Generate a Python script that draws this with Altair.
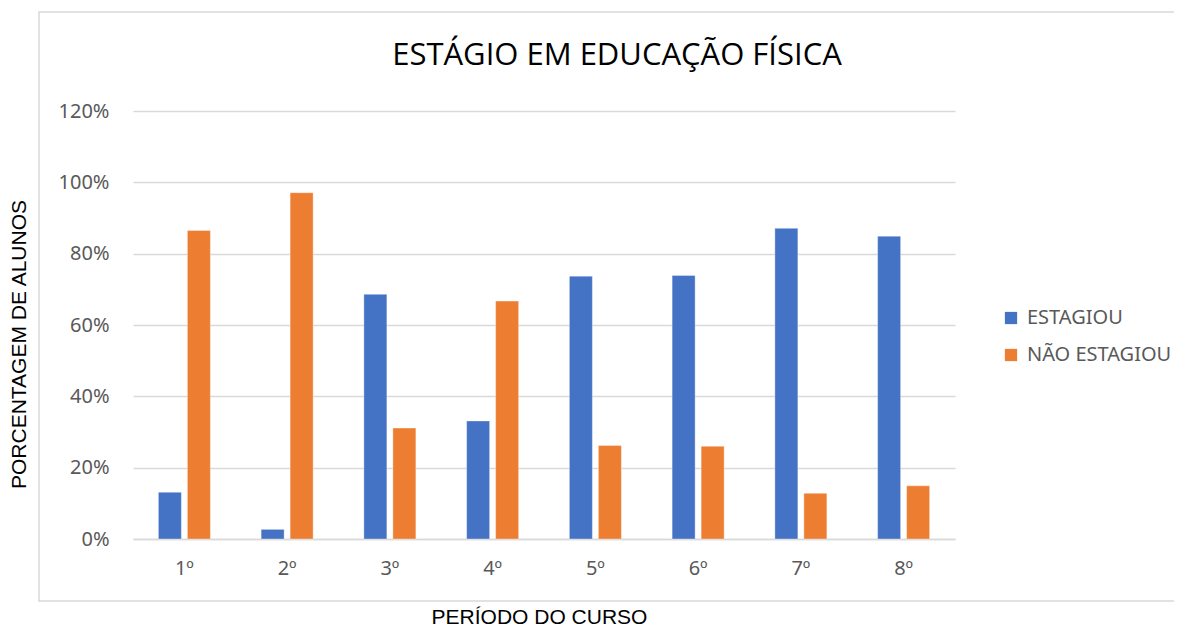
import altair as alt
import pandas as pd

periodos = ["1º", "2º", "3º", "4º", "5º", "6º", "7º", "8º"]
estagiou = [0.131, 0.027, 0.686, 0.331, 0.737, 0.739, 0.871, 0.849]
nao_estagiou = [0.865, 0.971, 0.311, 0.667, 0.262, 0.260, 0.128, 0.149]
series = ["ESTAGIOU", "NÃO ESTAGIOU"]
cores = ["#4472C4", "#ED7D31"]

rows = []
for i, p in enumerate(periodos):
    rows.append({"periodo": p, "serie": series[0], "valor": estagiou[i]})
    rows.append({"periodo": p, "serie": series[1], "valor": nao_estagiou[i]})
df = pd.DataFrame(rows)

W, H = 822, 428
PL, PT = 125, 103
TOTW, TOTH = 1166, 618
LBLFONT = "Noto Sans"

border = alt.Chart(pd.DataFrame({"k": [0]})).mark_rect(
    fill=None, stroke="#d9d9d9", strokeWidth=1.5
).encode(
    x=alt.value(39 - 8 - PL), x2=alt.value(TOTW + 10 - PL),
    y=alt.value(12 - 8 - PT), y2=alt.value(601 - 8 - PT)
)

bars = alt.Chart(df).mark_bar(stroke="white", strokeWidth=0.6, strokeOpacity=0.6).encode(
    x=alt.X("periodo:N", sort=periodos,
            scale=alt.Scale(paddingInner=0, paddingOuter=0),
            axis=alt.Axis(title="PERÍODO DO CURSO", labelAngle=0, labelFontSize=20,
                          labelColor="#595959", labelFont=LBLFONT, labelPadding=19,
                          ticks=False, domainColor="#d9d9d9", domainWidth=1.5,
                          titleFont="Liberation Sans", titleFontSize=21, titleFontWeight="normal",
                          titleColor="#000000", titleX=406, titleY=78, titleBaseline="middle")),
    xOffset=alt.XOffset("serie:N", sort=series,
                        scale=alt.Scale(paddingInner=0.207, paddingOuter=0.875)),
    y=alt.Y("valor:Q", scale=alt.Scale(domain=[0, 1.2], nice=False),
            axis=alt.Axis(title="PORCENTAGEM DE ALUNOS", format=".0%", values=[0, 0.2, 0.4, 0.6, 0.8, 1.0, 1.2],
                          labelFontSize=20, labelColor="#595959", labelFont=LBLFONT, labelPadding=24,
                          ticks=False, domain=False, gridColor="#d9d9d9", gridWidth=1.5,
                          titleFont="Liberation Sans", titleFontSize=21, titleFontWeight="normal",
                          titleColor="#000000", titleX=-114, titleY=233, titleBaseline="middle",
                          titleAngle=-90, titleAlign="center")),
    color=alt.Color("serie:N", sort=series, scale=alt.Scale(domain=series, range=cores),
                    legend=alt.Legend(title=None, orient="none", legendX=868, legendY=197,
                                      symbolType="square", symbolSize=150, symbolStrokeWidth=0,
                                      labelFontSize=20, labelColor="#595959", labelFont=LBLFONT,
                                      rowPadding=17, labelOffset=6)),
)

chart = alt.layer(border, bars).properties(
    width=W, height=H,
    title=alt.TitleParams("ESTÁGIO EM EDUCAÇÃO FÍSICA", font="Open Sans", fontSize=31,
                          fontWeight="normal", color="#000000", anchor="middle", dx=73,
                          offset=-61),
    autosize=alt.AutoSizeParams(type="none"),
    padding={"left": PL, "top": PT, "right": TOTW - PL - W, "bottom": TOTH - PT - H},
).configure_view(stroke=None).configure_axis(grid=True).configure_axisX(grid=False)

chart.save("out.html", embed_options={"renderer": "svg", "actions": False})
